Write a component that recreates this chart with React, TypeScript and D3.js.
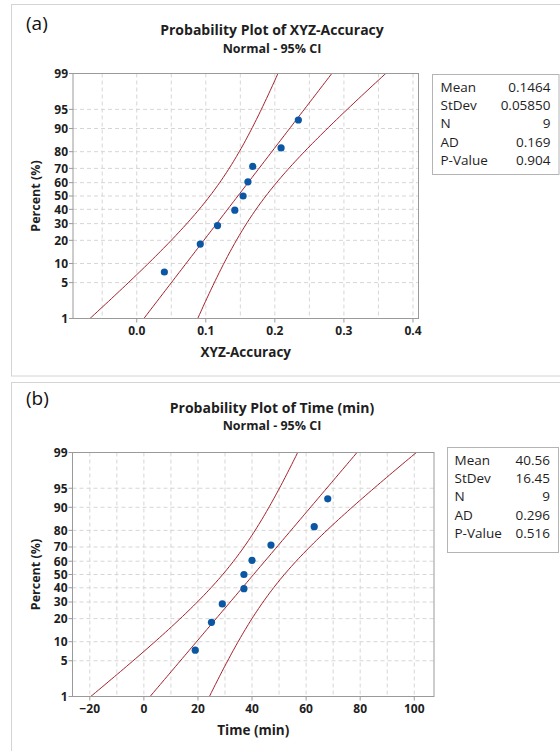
import React, { useEffect, useRef } from 'react';
import * as d3 from 'd3';

const accuracy = [0.040, 0.092, 0.117, 0.142, 0.154, 0.161, 0.168, 0.209, 0.234];
const timeMin = [19, 25, 29, 37, 37, 40, 47, 63, 68];

const percentTicks = [1, 5, 10, 20, 30, 40, 50, 60, 70, 80, 90, 95, 99];
const accuracyTicks = [0.0, 0.1, 0.2, 0.3, 0.4];
const accuracyGrid = [-0.05, 0, 0.05, 0.1, 0.15, 0.2, 0.25, 0.3, 0.35, 0.4];
const timeTicks = [-20, 0, 20, 40, 60, 80, 100];
const timeGrid = [-20, -10, 0, 10, 20, 30, 40, 50, 60, 70, 80, 90, 100];

const statLabels = ['Mean', 'StDev', 'N', 'AD', 'P-Value'];
const accuracyStats = ['0.1464', '0.05850', '9', '0.169', '0.904'];
const timeStats = ['40.56', '16.45', '9', '0.296', '0.516'];
const accuracyMean = 0.1464, accuracySd = 0.0585;
const timeMean = 40.56, timeSd = 16.45;

const FONT = '"Open Sans", "Noto Sans", sans-serif';
const LINE = '#a3212b';
const DOT = '#0b57a4';
const INK = '#1e1e1e';

// inverse normal cdf (Acklam)
function probit(p: number): number {
  const a = [-39.69683028665376, 220.9460984245205, -275.9285104469687, 138.357751867269, -30.66479806614716, 2.506628277459239];
  const b = [-54.47609879822406, 161.5858368580409, -155.6989798598866, 66.80131188771972, -13.28068155288572];
  const c = [-0.007784894002430293, -0.3223964580411365, -2.400758277161838, -2.549732539343734, 4.374664141464968, 2.938163982698783];
  const d = [0.007784695709041462, 0.3224671290700398, 2.445134137142996, 3.754408661907416];
  const pl = 0.02425;
  if (p < pl) {
    const q = Math.sqrt(-2 * Math.log(p));
    return (((((c[0] * q + c[1]) * q + c[2]) * q + c[3]) * q + c[4]) * q + c[5]) / ((((d[0] * q + d[1]) * q + d[2]) * q + d[3]) * q + 1);
  }
  if (p > 1 - pl) return -probit(1 - p);
  const q = p - 0.5, r = q * q;
  return (((((a[0] * r + a[1]) * r + a[2]) * r + a[3]) * r + a[4]) * r + a[5]) * q / (((((b[0] * r + b[1]) * r + b[2]) * r + b[3]) * r + b[4]) * r + 1);
}

const panels = [
  {
    id: 'a', tag: '(a)', title: 'Probability Plot of XYZ-Accuracy', xLabel: 'XYZ-Accuracy',
    values: accuracy, mean: accuracyMean, sd: accuracySd, stats: accuracyStats,
    xDomain: [-0.0923, 0.408], ticks: accuracyTicks, grid: accuracyGrid, fmt: d3.format('.1f'),
    frameY: 4.5, plot: { l: 73, r: 418.5, t: 73.5, b: 318.5 },
    legend: { x: 432.5, y: 74.5, w: 126.5, h: 100, pad: 8 },
    tagY: 29.5, titleY: 35, subY: 52.5, xLabelY: 356.5,
  },
  {
    id: 'b', tag: '(b)', title: 'Probability Plot of Time (min)', xLabel: 'Time (min)',
    values: timeMin, mean: timeMean, sd: timeSd, stats: timeStats,
    xDomain: [-26.4, 107.3], ticks: timeTicks, grid: timeGrid, fmt: d3.format('d'),
    frameY: 382.5, plot: { l: 72.5, r: 434, t: 452.5, b: 696.5 },
    legend: { x: 447.5, y: 447.5, w: 111, h: 105, pad: 7 },
    tagY: 405, titleY: 412.5, subY: 430, xLabelY: 735,
  },
];

export default function App() {
  const ref = useRef<SVGSVGElement>(null);

  useEffect(() => {
    const svg = d3.select(ref.current);
    svg.selectAll('*').remove();
    svg.append('rect').attr('width', 560).attr('height', 751).attr('fill', '#fff');

    panels.forEach(p => {
      const g = svg.append('g');
      const { l, r, t, b } = p.plot;
      const n = p.values.length;

      g.append('rect')
        .attr('x', 11.5).attr('y', p.frameY)
        .attr('width', 560).attr('height', p.id === 'a' ? 371.5 : 400)
        .attr('fill', 'none').attr('stroke', '#d4d4d4');

      const x = d3.scaleLinear().domain(p.xDomain).range([l, r]);
      const zMax = probit(0.99);
      const y = d3.scaleLinear().domain([-zMax, zMax]).range([b, t]);
      const yp = (pct: number) => y(probit(pct / 100));

      // grid
      g.append('g').selectAll('line').data(p.grid).enter().append('line')
        .attr('x1', d => x(d)).attr('x2', d => x(d)).attr('y1', t).attr('y2', b)
        .attr('stroke', '#d6d6d6').attr('stroke-dasharray', '4,3');
      g.append('g').selectAll('line').data(percentTicks.slice(1, -1)).enter().append('line')
        .attr('x1', l).attr('x2', r).attr('y1', d => yp(d)).attr('y2', d => yp(d))
        .attr('stroke', '#d6d6d6').attr('stroke-dasharray', '4,3');

      // fit line and 95% CI
      const clipId = 'clip-' + p.id;
      g.append('clipPath').attr('id', clipId).append('rect')
        .attr('x', l).attr('y', t).attr('width', r - l).attr('height', b - t);
      const zs = d3.range(-2.6, 2.61, 0.05);
      const hw = (z: number) => 1.96 * p.sd / Math.sqrt(n - 1) * Math.sqrt(1 + z * z / 2);
      const curve = (f: (z: number) => number) =>
        d3.line<number>().x(z => x(f(z))).y(z => y(z)).curve(d3.curveMonotoneY)(zs);
      const lines = g.append('g').attr('clip-path', `url(#${clipId})`);
      [
        (z: number) => p.mean + p.sd * z - hw(z),
        (z: number) => p.mean + p.sd * z,
        (z: number) => p.mean + p.sd * z + hw(z),
      ].forEach(f => {
        lines.append('path').attr('d', curve(f))
          .attr('fill', 'none').attr('stroke', LINE).attr('stroke-width', 1);
      });

      // points (median ranks)
      g.append('g').selectAll('circle').data(p.values).enter().append('circle')
        .attr('cx', d => x(d))
        .attr('cy', (d, i) => yp((i + 1 - 0.3) / (n + 0.4) * 100))
        .attr('r', 3.6).attr('fill', DOT);

      // frame
      g.append('rect').attr('x', l).attr('y', t).attr('width', r - l).attr('height', b - t)
        .attr('fill', 'none').attr('stroke', '#9a9a9a');

      // y ticks
      const yt = g.append('g');
      percentTicks.forEach(v => {
        yt.append('line').attr('x1', l - 4).attr('x2', l).attr('y1', yp(v)).attr('y2', yp(v)).attr('stroke', '#9a9a9a');
        yt.append('text').attr('x', l - 5).attr('y', yp(v)).attr('dy', '0.36em')
          .attr('text-anchor', 'end').attr('font-size', 12).attr('font-weight', 700)
          .attr('fill', INK).text(v);
      });
      // x ticks
      const xt = g.append('g');
      p.ticks.forEach(v => {
        xt.append('line').attr('x1', x(v)).attr('x2', x(v)).attr('y1', b).attr('y2', b + 4).attr('stroke', '#9a9a9a');
        xt.append('text').attr('x', x(v)).attr('y', b + 16.5)
          .attr('text-anchor', 'middle').attr('font-size', 12).attr('font-weight', 700)
          .attr('fill', INK).text(p.fmt(v));
      });

      // labels
      g.append('text').attr('x', (l + r) / 2).attr('y', p.xLabelY).attr('text-anchor', 'middle')
        .attr('font-size', 13.5).attr('font-weight', 700).attr('fill', INK).text(p.xLabel);
      g.append('text').attr('transform', `translate(40,${(t + b) / 2}) rotate(-90)`)
        .attr('text-anchor', 'middle').attr('font-size', 12.5).attr('font-weight', 700)
        .attr('fill', INK).text('Percent (%)');
      g.append('text').attr('x', 26).attr('y', p.tagY).attr('font-size', 19).attr('fill', '#111').text(p.tag);
      g.append('text').attr('x', 272).attr('y', p.titleY).attr('text-anchor', 'middle')
        .attr('font-size', 14).attr('font-weight', 700).attr('fill', INK).text(p.title);
      g.append('text').attr('x', 272).attr('y', p.subY).attr('text-anchor', 'middle')
        .attr('font-size', 12.5).attr('font-weight', 700).attr('fill', INK).text('Normal - 95% CI');

      // stats box
      const lg = p.legend;
      g.append('rect').attr('x', lg.x).attr('y', lg.y).attr('width', lg.w).attr('height', lg.h)
        .attr('fill', '#fff').attr('stroke', '#b4b4b4');
      statLabels.forEach((s, i) => {
        const yy = lg.y + 17 + i * 18.4;
        g.append('text').attr('x', lg.x + lg.pad).attr('y', yy).attr('font-size', 13.5)
          .attr('fill', INK).text(s);
        g.append('text').attr('x', lg.x + lg.w - 8.5).attr('y', yy).attr('text-anchor', 'end')
          .attr('font-size', 13.5).attr('fill', INK).text(p.stats[i]);
      });
    });
  }, []);

  return (
    <div style={{ position: 'absolute', left: 0, top: 0 }}>
      <svg ref={ref} width={560} height={751} style={{ display: 'block', fontFamily: FONT }} />
    </div>
  );
}
